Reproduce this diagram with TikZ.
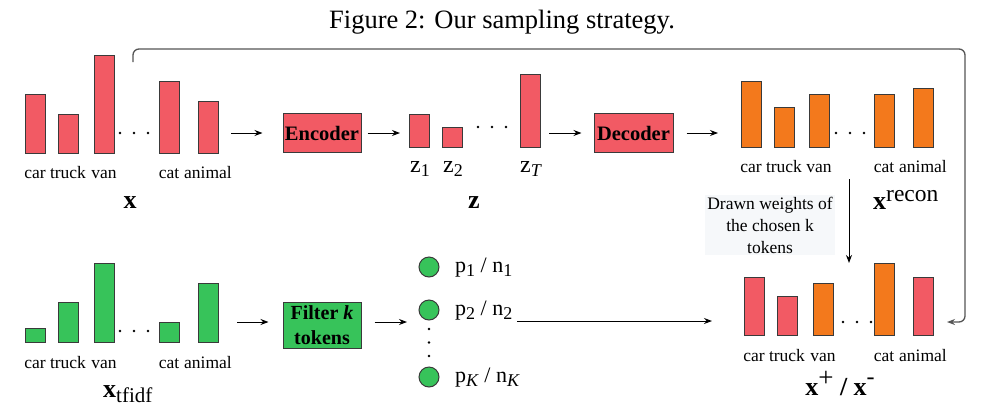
\documentclass[tikz,border=0pt]{standalone}
\usepackage{fontspec}
\setmainfont{Liberation Serif}
\usetikzlibrary{arrows.meta}
\definecolor{BarRed}{HTML}{F25A64}
\definecolor{BarOrange}{HTML}{F3791C}
\definecolor{BarGreen}{HTML}{37C35A}
\definecolor{EdgeGray}{HTML}{3A3A3A}
\definecolor{LoopGray}{HTML}{555555}
\definecolor{NoteBack}{HTML}{F6F8FA}
\newcommand{\pxfont}[1]{\fontsize{#1}{#1}\selectfont}
\newcommand{\lowidx}[1]{\raisebox{-4.5pt}{\pxfont{18}#1}}

\begin{document}
\begin{tikzpicture}[x=1pt, y=-1pt,
    redbar/.style={draw=EdgeGray, fill=BarRed, line width=1pt},
    orangebar/.style={draw=EdgeGray, fill=BarOrange, line width=1pt},
    greenbar/.style={draw=EdgeGray, fill=BarGreen, line width=1pt},
    lab/.style={font=\pxfont{17.5}, inner sep=0, anchor=base},
    vecname/.style={font=\pxfont{26}\bfseries, inner sep=0, anchor=base},
    netbox/.style={draw=EdgeGray, line width=1pt, font=\pxfont{20.5}\bfseries,
        minimum width=78pt, minimum height=39pt, inner sep=0},
    tokdot/.style={circle, draw=EdgeGray, fill=BarGreen, line width=1pt,
        minimum size=20pt, inner sep=0},
    arr/.style={-{Stealth[length=8pt,width=6pt]}, line width=1pt}]
    \useasboundingbox (0,0) rectangle (998,416);
    \node[font=\pxfont{26.5}, inner sep=0] (title) at (502,22) {Figure 2: Our sampling strategy.};

    % input x
    \foreach \x/\t/\w in {25/94/car, 58/114/truck, 94/55/van, 159/81/cat, 198/101/animal} {
        \draw[redbar] (\x,153) rectangle (\x+20,\t);
        \node[lab] (x-\w) at (\x+10,178) {\w};
    }
    \foreach \d in {0,1,2} \fill (120+14*\d,133) circle (1.3);
    \node[vecname] (xvec) at (130,208) {x};

    % encoder, latent z, decoder
    \node[netbox, fill=BarRed] (enc) at (322,133) {Encoder};
    \foreach \x/\t/\s in {409/114/1, 442/127/2, 520/74/\textit{T}} {
        \draw[redbar] (\x,147) rectangle (\x+20,\t);
        \node[font=\pxfont{24}, inner sep=0, anchor=base] (z-\x) at (\x+11,172) {z\lowidx{\s}};
    }
    \foreach \d in {0,1,2} \fill (478+14*\d,127) circle (1.3);
    \node[vecname] (zvec) at (474,208) {z};
    \node[netbox, fill=BarRed, minimum width=79pt] (dec) at (633.5,133) {Decoder};

    % reconstruction
    \foreach \x/\t/\w in {741/81/car, 774/107/truck, 809/94/van, 874/94/cat, 913/88/animal} {
        \draw[orangebar] (\x,147) rectangle (\x+20,\t);
        \node[lab] (r-\w) at (\x+10,172) {\w};
    }
    \foreach \d in {0,1,2} \fill (836+14*\d,133) circle (1.3);
    \node[inner sep=0, anchor=base west] (recon) at (873,209)
        {{\pxfont{26}\bfseries x}\raisebox{8pt}{\pxfont{23.5}recon}};

    % tf-idf
    \foreach \x/\t/\w in {25/328/car, 58/302/truck, 94/263/van, 159/322/cat, 198/283/animal} {
        \draw[greenbar] (\x,342) rectangle (\x+20,\t);
        \node[lab] (t-\w) at (\x+10,368) {\w};
    }
    \foreach \d in {0,1,2} \fill (120+14*\d,331) circle (1.3);
    \node[inner sep=0, anchor=base west] (tfidf) at (103,397)
        {{\pxfont{26}\bfseries x}\raisebox{-5pt}{\pxfont{21}tfidf}};
    \node[netbox, fill=BarGreen, minimum height=46pt, align=center,
        font=\fontsize{20}{25}\selectfont\bfseries] (filt) at (322,325) {Filter \textit{k}\\tokens};

    % chosen tokens
    \foreach \n/\y/\s in {1/267/1, 2/310/2, K/377/\textit{K}} {
        \node[tokdot] (c\n) at (429,\y) {};
        \node[font=\pxfont{22}, inner sep=0, anchor=base west] (p\n) at (455,\y+5)
            {p\lowidx{\s} / n\lowidx{\s}};
    }
    \foreach \d in {0,1,2} \fill (429,329+13.5*\d) circle (1.3);

    % mixed sample
    \foreach \x/\t/\w/\c in {744/277/car/redbar, 777/296/truck/redbar, 813/283/van/orangebar,
                             874/263/cat/orangebar, 913/277/animal/redbar} {
        \draw[\c] (\x,335) rectangle (\x+20,\t);
        \node[lab] (m-\w) at (\x+10,361) {\w};
    }
    \foreach \d in {0,1,2} \fill (843+14*\d,322) circle (1.3);
    \node[inner sep=0, anchor=base] (mix) at (840,395)
        {{\pxfont{26}\bfseries x}\raisebox{9pt}{\pxfont{27}+}{\pxfont{26}\bfseries\ /\ x}\raisebox{11pt}{\pxfont{24}-}};
    \node[fill=NoteBack, align=center, inner sep=2pt, font=\fontsize{17.5}{22}\selectfont] (note) at (770,225)
        {Drawn weights of\\the chosen k\\tokens};

    % connectors
    \coordinate (xout) at (231,133);
    \coordinate (zin) at (400,133);
    \coordinate (zout) at (549,133);
    \coordinate (rin) at (718,133);
    \coordinate (tfout) at (237,322);
    \coordinate (cin) at (407,322);
    \coordinate (pout) at (517,321);
    \coordinate (mixin) at (712,321);
    \coordinate (rdown) at (849,179);
    \coordinate (mixtop) at (849,263);
    \coordinate (loopin) at (133,62);
    \coordinate (loopout) at (947,322);
    \draw[arr, shorten >=20pt] (xout) -- (enc.west);
    \draw[arr, shorten <=6pt] (enc.east) -- (zin);
    \draw[arr, shorten >=12pt] (zout) -- (dec.west);
    \draw[arr, shorten <=13pt] (dec.east) -- (rin);
    \draw[arr, shorten >=14pt] (tfout) -- (filt.west |- tfout);
    \draw[arr, shorten <=13pt] (filt.east |- cin) -- (cin);
    \draw[arr] (pout) -- (mixin);
    \draw[arr] (rdown) -- (mixtop);
    \draw[arr, draw=LoopGray, line width=1.3pt, rounded corners=6pt]
        (loopin) |- (965,49) |- (loopout);
\end{tikzpicture}
\end{document}
